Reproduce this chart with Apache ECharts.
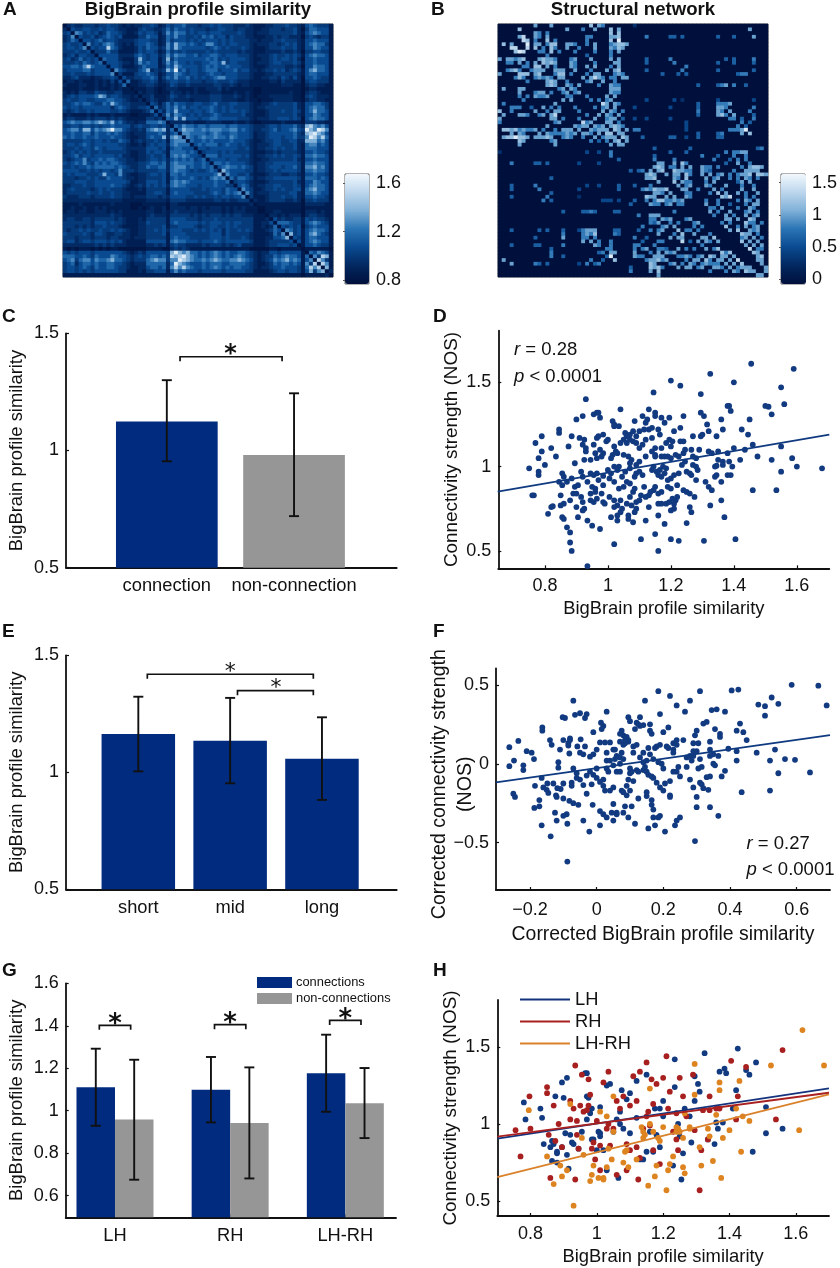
<!DOCTYPE html>
<html><head><meta charset="utf-8">
<style>html,body{margin:0;padding:0;background:#fff}#c{width:840px;height:1268px}</style>
<script src="https://cdn.jsdelivr.net/npm/echarts@6/dist/echarts.min.js"></script>
</head><body><div id="c"></div>
<script>
// ---------- DATA ----------
// Panel A: upper triangle, one level digit per cell (level values in similarityLevels). Each row starts at the decade holding its diagonal cell.
const similarityLevels = [0.8,0.86,0.93,1.0,1.07,1.17,1.27,1.38,1.5,1.62];
const similarityRows = [
"1232233323 3433212122 3343124344 5333233434 3332223211 1223334332 14543331",
"0043344334 3443221113 4332235354 4343332334 4332332211 2233323342 03554441",
"2306534342 3544321124 3443136465 5343443444 3333432212 2233333342 14565441",
"3340433423 4543411113 3544125464 4334354534 4243332211 1223233222 03432331",
"2354044345 3443222234 4433125344 4343434443 4343333221 2223343332 14454441",
"3433406343 5653212134 4543126475 5454346643 4344333212 2233234342 14565531",
"3443460434 4854211124 3544236475 4444443454 3433343211 1233343342 14465441",
"2332344033 3533111124 3443125343 4333334343 3333232211 1222232232 03344331",
"3443434304 4444222245 4344236465 5445344554 3444333212 2234334343 14565541",
"3344234340 5444211137 4344137354 4444445453 4344443211 2234344342 04454441",
"0444322136 4544136464 4343344554 7344333212 2234433343 14454441",
"4044311123 5444125475 4444345454 4544433211 1233332232 04465541",
"4406432224 5723237594 5344345553 4445344221 2334342343 14675541",
"4460311134 4543124465 4344334544 3444333211 1223333332 14554441",
"4344042233 4454135464 4534343456 6444333211 2233243242 04454331",
"3233405112 3343123443 3433323343 3343222111 1122132222 03443331",
"2122240112 2332112432 2322222233 2232122111 1111122211 02332211",
"1111111011 1221012221 1112112223 1211111100 1111111111 01221111",
"1122111102 1221011322 1212111222 1112112100 1111111211 02332111",
"3312121120 2231112432 2322222333 2223212101 1122222211 03432221",
"0232112322 2212222333 2222112110 1112222211 02332211",
"2043135354 4334433453 3344333211 2234333342 14455431",
"3405235464 5344344543 4343333212 2333333342 14565531",
"3450425474 4434434543 4344343211 1233343343 14575541",
"2342036365 4343433454 3333342211 1233333342 14465441",
"3353205474 7444344554 4444333212 2233444343 04565541",
"1111110222 2121112222 1112112100 1111121111 03332211",
"4554462054 6554554555 5455444322 2344344453 27865641",
"4465572505 7665565666 5566454322 3345344564 39769861",
"3534451350 6655554565 4455444312 2344444453 27897641",
"0654565565 5465444312 2344434453 36986851",
"6054454544 4454443211 2334433442 27775641",
"5504545553 4544343212 2234433342 15664541",
"4540443444 4444334212 2334343342 15554441",
"4544034443 4343333211 1223233332 14454431",
"5454305553 4444434212 2334343343 15565541",
"4344530444 4344333211 2233333342 14454441",
"4444350455 4544443212 2334444443 15565541",
"5555544054 5655454312 2344434453 16675641",
"5453454504 7544443312 2334344443 15565541",
"0644334211 1233322332 14454431",
"6053554312 2334444443 15554541",
"4503443211 1233333342 14465441",
"4530454212 2334433343 14565541",
"3454064311 2334343344 15675541",
"3543606312 2233333442 15565441",
"3345460311 1233343342 14454431",
"2244443021 1233332232 03343331",
"1111111201 1111111111 02222211",
"1011010100 0111111111 01111111",
"0112211111 02221211",
"1022121222 02332211",
"1204232233 14343321",
"2240555433 14565431",
"2255043434 03454441",
"1235406534 14565541",
"2235460734 14675431",
"1243367043 14554441",
"2234334404 14565441",
"1233344340 14454331",
"01111110",
"10546541",
"15063871",
"14608631",
"13680861",
"15368071",
"14616702",
"11111120"
];
// Panel B: upper-triangle connections per row, "column:digit" (value = d*0.17)
const networkRows = [
"9:6 13:6 23:7 25:6 26:5 34:2",
"5:7 17:6 21:5 24:6 28:7 30:6 63:6",
"9:6 10:5 12:5 28:7 30:7",
"5:6 6:8 9:6 10:5 12:6 22:5 23:5 28:6 29:6 30:7 37:5 43:4 44:4 46:4 55:4 59:4 64:6",
"6:8 7:7 9:5 12:7 14:5 22:5 28:7 30:9",
"7:9 9:6 10:6 12:5 13:7 14:7 17:6 18:6 19:5 22:5 24:6 28:5 29:6 30:7 31:7 32:6",
"7:8 9:7 11:5 13:7 14:5 17:6 20:5 24:6 28:6 29:5 30:7 31:6",
"10:5 11:5 13:7 15:5 19:5 24:5 28:5 30:6",
"12:5 22:4 28:5",
"10:6 11:7 12:6 13:6 14:5 18:5 19:6 23:6 28:6 30:6 37:4 43:5 57:4 59:4 64:5",
"11:7 12:6 13:7 14:6 18:6 19:5 24:5 29:6 30:6 37:4 44:5 55:4 59:4 64:4",
"12:6 14:5 18:6 19:5 22:6 24:6 28:5 30:6 47:5",
"14:6 15:6 16:6 19:6 23:5 27:6 29:6 30:7 37:4 46:5 55:4 64:4",
"14:5 15:7 16:7 18:5 22:5 24:6 25:6 29:5 30:6 31:5 41:4 45:4 47:4 60:4 61:5 62:5",
"15:6 16:6 21:6 23:6 24:8 25:6 26:5 28:5 29:5 31:6 32:6",
"17:5 22:5 23:6 26:6 29:5",
"17:6 18:5 20:6 25:5 28:6 29:5 30:5 50:4 55:4 56:5 57:6 59:5 62:4",
"18:6 19:5 28:6 29:6 30:6",
"19:5 20:6 28:6 29:5 30:5",
"22:5 27:6 29:6",
"23:5 25:5 27:5 28:6 37:3 44:3 46:2 55:3 64:3",
"26:8 27:6 29:6 30:5 50:4 55:5 56:5 57:5 58:6",
"24:5 26:5 27:6 29:6 34:3 43:3 50:4 55:6 56:6 57:5 64:5",
"26:6 28:6 29:5 31:5 50:5 55:6 56:5 58:6 63:5",
"25:6 27:6 28:5 30:6 50:4 55:6 56:7 57:5 59:6 64:4",
"27:5 28:6 29:6 31:4 34:3 37:3 43:3 58:5 59:5 61:4 64:5",
"27:6 28:6 30:5 47:3 61:5 63:4",
"28:6 29:7 30:6 31:5 47:3 60:5 62:4",
"29:7 30:6 32:6 34:5 35:5 47:3 58:5 59:5 60:5 61:6 62:9",
"30:6 31:6 50:4 55:4 56:5 61:6 63:7",
"31:7 32:6 36:4 43:4 44:4 47:3 50:4 55:4 56:4",
"32:6",
"",
"39:4 48:4 65:4 66:5",
"43:4 47:4 57:5 59:5 60:5 61:6 62:6",
"39:4 51:5 55:4 59:5 62:5",
"39:5 44:5 54:5 58:4 60:5 62:5",
"40:6 41:6 44:6 46:7 47:5 57:4 60:6 63:5",
"39:6 40:7 41:6 43:5 44:5 46:6 48:6 51:6 52:5 53:5 55:5 61:5 63:6 64:7 65:7 66:6",
"40:6 41:7 44:7 45:6 46:6 47:5 48:5 51:6 52:5 53:4 59:5 62:6 63:6 64:6 65:6",
"42:6 44:6 45:6 47:7 48:5 51:6 53:6 55:5 56:6 58:5 60:5 61:6 62:6 63:7 65:7 66:7 67:6",
"44:6 45:5 47:7 52:6 54:5 55:6 58:5 60:5 62:6 63:5 65:5",
"44:7 46:6 47:5 48:5 52:5 54:6 60:4 61:6 63:6",
"45:6 47:5 48:6 52:6 53:5 57:6 61:5 64:5",
"46:6 47:6 50:5 54:6 56:5 61:6 64:6",
"47:5 48:5 53:5 55:7 57:6 60:6 62:5 65:6",
"47:6 48:5 56:7 57:6 58:8 62:5 64:5",
"52:5 55:5 60:5 62:6 63:5 65:6",
"52:6 55:5 58:4 62:5 64:6 65:6",
"53:5 54:5 56:6 60:5 63:6 64:5",
"53:6 55:5 58:6 62:5 63:6 65:5",
"54:5 57:6 59:5 62:6 64:5 65:6",
"57:6 58:6 60:6 63:7 64:6",
"56:5 58:5 62:7 63:5 64:5 66:5",
"57:7 60:5 62:6 64:5 65:6",
"58:6 60:7 63:6 64:5 65:6",
"61:7 62:6 63:6 65:5",
"61:5 62:6 64:6 66:5",
"61:7 63:6 65:6",
"62:6 64:6 66:6",
"63:8 65:5 66:5",
"64:7 65:6",
"65:6 66:7",
"65:6 66:6",
"66:6",
"67:6",
"67:6",
""
];
const colorbarATicks = [0.8, 1.2, 1.6];
const colorbarBTicks = [0, 0.5, 1, 1.5];

// Panel C
const connCats = ["connection", "non-connection"];
const connMeans = [1.124, 0.981];
const connLow = [0.954, 0.72];
const connHigh = [1.30, 1.244];
// Panel E
const distCats = ["short", "mid", "long"];
const distMeans = [1.164, 1.135, 1.058];
const distLow = [1.004, 0.953, 0.882];
const distHigh = [1.323, 1.318, 1.235];
// Panel G
const hemiCats = ["LH", "RH", "LH-RH"];
const hemiConn = [1.111, 1.099, 1.176];
const hemiConnLow = [0.929, 0.945, 0.995];
const hemiConnHigh = [1.292, 1.253, 1.358];
const hemiNon = [0.958, 0.942, 1.035];
const hemiNonLow = [0.675, 0.681, 0.871];
const hemiNonHigh = [1.24, 1.204, 1.201];

// Panel D
const pointsD = [[.75,.99],[.76,.83],[.765,.83],[.77,1.14],[.79,1.18],[.79,1.09],[.78,1.05],[.78,.97],[.78,.95],[.80,1.01],[.81,.72],[.82,.76],[.825,.765],[.82,1.11],[.835,1.06],[.845,1.2],[.845,1.22],[.845,.91],[.855,.96],[.86,.94],[.855,.89],[.85,.83],[.86,.78],[.85,.77],[.855,.70],[.86,.69],[.87,.64],[.88,.61],[.88,.55],[.885,.50],[.935,.41],[.93,1.40],[.90,1.28],[.92,1.30],[.885,1.18],[.875,1.12],[.895,1.02],[.87,.91],[.885,.93],[.895,.88],[.89,.84],[.905,.89],[.90,.84],[.915,.82],[.88,.80],[.90,.76],[.92,.79],[.925,.75],[.92,.74],[.905,.70],[.935,.68],[.95,.65],[.975,.63],[.92,1.13],[.93,1.11],[.91,1.17],[.925,1.16],[.93,1.09],[.925,1.04],[.945,1.04],[.915,.97],[.92,.94],[.935,.91],[.945,.96],[.955,.95],[.965,.96],[.95,.88],[.96,.87],[.945,.84],[.96,.85],[.945,.80],[.955,.79],[.965,.81],[.985,.79],[.99,.78],[.98,.84],[.985,.89],[.97,.92],[.955,1.13],[.96,1.08],[.965,1.17],[.97,1.18],[.985,1.19],[.975,1.10],[.985,1.08],[.98,1.06],[.965,1.05],[.955,1.31],[.965,1.32],[.97,1.32],[.975,1.29],[.995,1.15],[1,1.16],[1.015,1.27],[1.02,1.25],[1.02,1.24],[1.035,1.24],[1.04,1.34],[1.02,1.12],[1.04,1.14],[1.05,1.16],[1.06,1.18],[1.07,1.19],[1.055,1.20],[1.08,1.21],[1.09,1.18],[1.1,1.21],[1.115,1.22],[1.13,1.22],[1.14,1.23],[1.16,1.22],[1.165,1.19],[1.085,1.27],[1.11,1.30],[1.125,1.28],[1.12,1.26],[1.13,1.34],[1.15,1.32],[1.15,1.30],[1.17,1.29],[1.18,1.26],[1.195,1.29],[1.145,1.44],[1.2,1.51],[1.23,1.48],[1.24,1.30],[1.23,1.23],[1.21,1.21],[1.325,1.55],[1.295,1.43],[1.4,1.50],[1.455,1.61],[1.59,1.58],[1.55,1.47],[1.56,1.37],[1.50,1.36],[1.51,1.355],[1.52,1.31],[1.45,1.28],[1.38,1.36],[1.385,1.36],[1.39,1.33],[1.36,1.28],[1.295,1.32],[1.305,1.30],[1.315,1.25],[1.32,1.21],[1.30,1.19],[1.295,1.18],[1.345,1.18],[1.365,1.22],[1.425,1.22],[1.445,1.19],[1.46,1.13],[1.55,1.12],[1.40,1.11],[1.435,1.10],[1.32,1.09],[1.33,1.08],[1.35,1.09],[1.38,1.08],[1.35,1.04],[1.365,1.03],[1.385,1.03],[1.395,1.00],[1.365,1.01],[1.42,1.04],[1.475,1.06],[1.52,1.04],[1.585,1.05],[1.60,1.00],[1.68,.99],[1.55,.97],[1.38,.95],[1.39,.95],[1.345,.95],[1.34,.94],[1.36,.91],[1.31,.91],[1.32,.88],[1.33,.86],[1.46,.86],[1.535,.86],[1.36,.80],[1.325,.77],[1.37,.70],[1.405,.57],[1.305,.56],[1.225,.56],[1.2,.57],[1.16,.50],[1.15,.60],[1.105,.57],[1.02,.54],[1.08,.67],[1.12,.68],[1.18,.66],[1.25,.665],[1.265,.73],[1.26,.76],[1.16,.71],[1.13,.76],[1.2,.74],[1.21,.75],[1.16,.78],[1.17,.78],[1.185,.78],[1.195,.79],[1.21,.78],[1.215,.80],[1.205,.81],[1.22,.82],[1.24,.86],[1.25,.85],[1.26,.84],[1.275,.82],[1.22,.89],[1.20,.87],[1.19,.88],[1.17,.85],[1.16,.84],[1.15,.88],[1.145,.86],[1.135,.85],[1.13,.83],[1.12,.82],[1.105,.83],[1.1,.80],[1.09,.79],[1.115,.88],[1.08,.85],[1.085,.87],[1.07,.82],[1.06,.78],[1.04,.80],[1.03,.77],[1.02,.76],[1.045,.75],[1.04,.73],[1.03,.71],[1.03,.68],[1.01,.70],[1.065,.71],[1.065,.69],[1.09,.75],[1.085,.73],[1.075,.77],[1.005,.82],[1.02,.80],[1.035,.87],[1.05,.88],[1.06,.91],[1.07,.90],[1.085,.94],[1.09,.96],[1.1,.97],[1.11,.95],[1.14,.98],[1.155,.97],[1.16,.95],[1.17,.94],[1.18,.96],[1.165,.98],[1.175,1.0],[1.185,.99],[1.145,1.0],[1.19,.92],[1.2,.93],[1.21,.95],[1.225,.96],[1.235,1.01],[1.25,.97],[1.26,.96],[1.265,.95],[1.28,.92],[1.245,1.03],[1.27,1.01],[1.28,1.0],[1.285,.98],[1.34,1.0],[1.345,1.005],[1.15,1.07],[1.17,1.06],[1.18,1.06],[1.19,1.06],[1.2,1.05],[1.215,1.07],[1.225,1.06],[1.24,1.08],[1.245,1.10],[1.265,1.10],[1.27,1.06],[1.28,1.05],[1.29,1.10],[1.27,1.18],[1.23,1.15],[1.24,1.15],[1.205,1.15],[1.195,1.16],[1.185,1.14],[1.2,1.12],[1.17,1.11],[1.15,1.11],[1.14,1.09],[1.15,1.06],[1.12,1.06],[1.1,1.03],[1.075,1.04],[1.07,1.02],[1.065,1.06],[1.05,1.07],[1.03,1.08],[1.025,1.09],[1.015,1.07],[1.01,1.05],[1.02,1.0],[1.035,1.0],[1.03,.98],[1.01,.96],[1.0,.98],[1.005,.93],[1.02,.91],[.985,.945],[1.045,.94],[1.055,.97],[1.07,.99],[1.09,1.01],[1.1,1.11],[1.08,1.15],[1.07,1.16],[1.06,1.14],[1.09,1.14],[1.11,1.13],[1.12,1.16],[1.14,1.17]];
const lineD = [[.65,.852],[1.703,1.19]];

// Panel F
const pointsF = [[-.262,.105],[-.262,-.015],[-.248,.02],[-.25,-.19],[-.245,-.21],[-.235,.145],[-.22,-.01],[-.22,-.04],[-.21,.08],[-.195,.07],[-.188,.03],[-.185,-.14],[-.187,-.28],[-.172,-.27],[-.172,-.23],[-.165,-.39],[-.163,.23],[-.163,.21],[-.165,-.09],[-.16,-.15],[-.15,-.165],[-.148,-.125],[-.145,-.185],[-.14,.15],[-.138,-.46],[-.135,.12],[-.13,-.125],[-.125,-.31],[-.12,-.21],[-.122,-.2],[-.118,-.155],[-.12,-.36],[-.115,.01],[-.115,-.025],[-.11,.09],[-.108,-.16],[-.1,-.125],[-.1,.15],[-.1,-.22],[-.1,-.33],[-.102,.295],[-.095,.29],[-.09,-.32],[-.088,-.38],[-.088,-.62],[-.085,.13],[-.085,.115],[-.082,-.235],[-.082,.065],[-.08,.16],[-.08,.15],[-.075,-.14],[-.075,-.12],[-.07,-.25],[-.07,.4],[-.07,-.03],[-.06,-.09],[-.06,-.06],[-.065,.31],[-.058,.11],[-.05,.32],[-.048,.155],[-.05,.07],[-.05,-.1],[-.055,-.26],[-.04,-.135],[-.04,-.36],[-.04,.06],[-.035,.29],[-.035,.11],[-.03,-.075],[-.03,-.19],[-.03,.315],[-.022,-.43],[-.02,.045],[-.012,-.26],[-.015,-.13],[-.01,.2],[-.01,.06],[0,.09],[.0,-.09],[.01,.135],[.02,-.1],[.02,.24],[.025,.135],[.02,-.14],[.025,-.17],[.01,-.115],[.03,.02],[.03,-.03],[.035,-.05],[.04,.135],[.01,-.3],[.01,-.39],[.013,.26],[.015,.22],[.02,-.32],[.03,-.34],[.03,.33],[.04,-.17],[.045,-.31],[.05,-.01],[.05,-.15],[.05,-.255],[.06,-.32],[.05,.09],[.055,.09],[.06,.05],[.055,.03],[.06,-.05],[.07,.19],[.07,.14],[.075,.21],[.08,.18],[.085,.15],[.09,.17],[.095,.14],[.095,.15],[.085,.13],[.08,.12],[.07,.04],[.075,.07],[.05,-.36],[.06,-.31],[.07,-.05],[.07,.0],[.075,-.17],[.08,-.18],[.08,-.31],[.085,-.27],[.09,-.2],[.09,-.14],[.095,-.1],[.1,.27],[.095,-.34],[.1,-.17],[.1,-.06],[.105,-.27],[.11,-.11],[.11,.11],[.12,.12],[.13,.295],[.12,.26],[.125,.25],[.115,.22],[.13,.24],[.095,.295],[.105,-.05],[.125,-.22],[.115,-.38],[.125,-.05],[.13,.04],[.14,.01],[.14,-.04],[.14,.07],[.14,.245],[.145,.4],[.145,-.02],[.15,-.05],[.15,-.205],[.15,-.18],[.155,.1],[.16,.25],[.16,.21],[.165,.19],[.155,-.07],[.165,-.08],[.17,-.09],[.17,.03],[.17,-.34],[.165,-.26],[.17,-.29],[.165,-.23],[.155,-.41],[.175,-.39],[.175,.1],[.18,.11],[.19,.12],[.185,.01],[.195,.0],[.18,-.12],[.19,-.15],[.2,-.17],[.205,-.125],[.19,.315],[.185,.46],[.19,-.33],[.185,-.34],[.2,.2],[.21,.11],[.205,-.43],[.215,.23],[.22,-.2],[.22,-.21],[.215,.1],[.22,.43],[.23,.07],[.23,.13],[.23,.09],[.24,-.05],[.245,-.02],[.25,-.08],[.24,.12],[.24,.15],[.26,.15],[.265,.33],[.27,.04],[.28,.05],[.27,-.02],[.28,-.1],[.29,.05],[.29,-.15],[.3,-.21],[.305,.13],[.32,.255],[.33,.265],[.34,.09],[.35,.06],[.355,.22],[.365,.05],[.37,.19],[.37,.17],[.29,.13],[.295,.18],[.3,.21],[.31,.03],[.3,.08],[.29,.08],[.285,.02],[.305,-.03],[.315,-.02],[.31,.46],[.28,.4],[.24,.37],[.25,-.34],[.24,-.36],[.235,-.39],[.295,-.49],[.3,-.275],[.34,-.275],[.365,-.33],[.31,-.12],[.315,-.13],[.32,-.155],[.335,-.165],[.33,-.085],[.34,-.08],[.375,-.08],[.385,-.045],[.355,-.01],[.35,.0],[.34,.05],[.34,.14],[.345,.34],[.36,.345],[.385,.33],[.405,.465],[.425,.47],[.42,.21],[.43,.255],[.44,.2],[.45,.15],[.395,.095],[.42,.08],[.42,.02],[.435,-.18],[.48,.07],[.485,.375],[.505,.365],[.505,.305],[.525,.42],[.545,.38],[.535,.09],[.52,.02],[.545,-.06],[.52,-.17],[.565,.03],[.585,.5],[.595,.025],[.64,-.055],[.665,.495],[.69,.37],[.23,-.05],[.22,-.11],[.2,-.03],[.16,.06],[.15,.02],[.12,-.04],[.11,.07],[.1,-.03],[.08,.03],[.04,.02],[.03,.07],[0,-.03],[-.01,-.07],[-.02,-.05]];
const lineF = [[-.302,-.118],[.7,.182]];

// Panel H
const pointsHL = [[.78,1.14],[.785,1.03],[.83,1.10],[.835,1.04],[.84,.87],[.86,.85],[.865,.89],[.87,.87],[.875,1.18],[.88,.81],[.865,.76],[.88,.82],[.88,.75],[.895,.85],[.895,1.27],[.9,1.17],[.905,.94],[.91,1.3],[.91,.8],[.915,.71],[.92,.93],[.925,.88],[.93,.87],[.945,.84],[.955,.95],[.965,1.33],[.97,1.33],[.97,1.18],[.975,1.17],[.97,1.03],[.98,1.07],[.985,.9],[.985,1.1],[.99,.9],[1,.83],[1.005,.95],[1.01,1.11],[1.01,.94],[1.01,.92],[1.02,.83],[1.03,.7],[1.03,1.25],[1.04,1.26],[1.05,.95],[1.06,1.03],[1.065,.65],[1.07,1.08],[1.07,1.0],[1.075,1.22],[1.08,.97],[1.09,1.16],[1.1,1.2],[1.1,.94],[1.12,1.04],[1.12,1.28],[1.13,.77],[1.14,.77],[1.15,1.32],[1.15,.82],[1.16,.95],[1.17,.82],[1.175,1.1],[1.18,.93],[1.19,1.1],[1.19,.85],[1.2,1.05],[1.2,1.15],[1.23,.73],[1.235,1.42],[1.235,1.24],[1.245,1.0],[1.25,.92],[1.255,.64],[1.26,.81],[1.265,1.1],[1.28,1.05],[1.285,.88],[1.295,1.31],[1.295,1.15],[1.305,1.26],[1.31,1.21],[1.325,1.46],[1.335,.9],[1.355,.87],[1.36,1.01],[1.365,.97],[1.37,1.34],[1.385,1.36],[1.39,1.33],[1.38,1.01],[1.41,1.1],[1.42,1.22],[1.425,1.49],[1.45,1.35],[1.46,1.32],[1.47,.82],[1.48,1.4],[1.51,1.11],[1.51,.94],[1.56,.97]];
const pointsHR = [[.755,.96],[.77,.79],[.797,1.18],[.8,.97],[.85,1.2],[.85,1.24],[.855,.93],[.86,.65],[.87,1.12],[.875,.89],[.885,1.0],[.895,.85],[.92,1.15],[.92,1.03],[.93,1.1],[.935,1.38],[.935,.64],[.94,1.02],[.945,.84],[.95,1.12],[.955,1.32],[.96,1.08],[.97,1.09],[.975,1.29],[.975,1.12],[.98,1.19],[.985,.84],[.99,.88],[.995,.77],[1.01,.7],[1.01,.86],[1.02,1.27],[1.03,.97],[1.035,1.34],[1.035,1.0],[1.04,.86],[1.06,1.15],[1.06,.67],[1.07,1.1],[1.08,1.18],[1.09,.87],[1.09,.7],[1.1,1.12],[1.11,1.31],[1.12,.85],[1.12,1.15],[1.125,.64],[1.13,1.34],[1.14,.97],[1.15,1.4],[1.155,1.08],[1.16,.99],[1.165,1.29],[1.17,1.13],[1.18,1.26],[1.19,.74],[1.2,1.3],[1.21,1.44],[1.215,1.1],[1.22,1.21],[1.23,.95],[1.24,1.07],[1.24,.9],[1.245,.83],[1.25,1.3],[1.26,1.18],[1.27,1.05],[1.29,1.32],[1.295,.96],[1.31,.57],[1.315,.83],[1.32,1.09],[1.335,.9],[1.34,1.09],[1.34,1.18],[1.36,1.1],[1.37,1.1],[1.405,1.41],[1.42,1.03],[1.425,1.18],[1.45,1.37],[1.54,1.03],[1.56,1.48],[1.1,.83],[1.05,.97],[1.15,1.05],[1.17,.83],[1.13,.78],[.94,.93],[1.0,1.02]];
const pointsHO = [[.795,1.09],[.85,.79],[.87,.61],[.895,.66],[.92,1.13],[.89,.73],[.91,.7],[.93,.47],[.955,.91],[.96,.8],[.98,.63],[.985,.67],[.99,.73],[1.005,.65],[1.02,.65],[1.02,.64],[1.01,1.08],[1.03,1.05],[1.03,.72],[1.035,.84],[1.045,.77],[1.05,1.18],[1.08,.75],[1.085,.82],[1.09,.83],[1.095,.72],[1.135,.98],[1.14,.95],[1.145,.93],[1.155,.6],[1.16,1.23],[1.17,.95],[1.175,.66],[1.18,.73],[1.185,.91],[1.19,.89],[1.2,.98],[1.21,.57],[1.215,.7],[1.22,.74],[1.23,.79],[1.24,.98],[1.245,.97],[1.25,.95],[1.26,.72],[1.26,.91],[1.265,.68],[1.28,.98],[1.295,1.39],[1.295,1.19],[1.31,.85],[1.315,.73],[1.335,.97],[1.34,.92],[1.35,.76],[1.36,1.06],[1.37,1.27],[1.37,1.22],[1.375,.65],[1.38,.91],[1.4,.96],[1.43,1.28],[1.42,1.1],[1.435,.82],[1.44,1.05],[1.46,1.02],[1.525,1.38],[1.61,.96],[1.62,1.61],[1.685,1.38],[1.265,1.07],[1.24,.95],[1.12,.77],[1.05,.95],[1.14,.91],[1.16,1.0],[1.28,.97]];
const lineHL = [[.70,.905],[1.70,1.232]];
const lineHR = [[.70,.918],[1.70,1.203]];
const lineHO = [[.70,.656],[1.70,1.193]];

// ---------- STYLE ----------
const FONT = '"Liberation Sans", Arial, sans-serif';
const NAVY = '#012b7f', GRAY = '#969696', DOT = '#123a80', INK = '#111';
const PAL = ['#00103c','#02275f','#0a4a90','#2a74b5','#7fb0d8','#bcd6ec','#f2f8fd'];

const simData = [];
{
  const m = Array.from({length:68},()=>Array(68).fill(similarityLevels[0]));
  similarityRows.forEach((s,i)=>{
    const d = s.replace(/\s/g,''); const st = Math.floor(i/10)*10;
    for(let j=i+1;j<68;j++){ const ch=d[j-st]; const v=similarityLevels[ch===undefined?2:+ch]; m[i][j]=v; m[j][i]=v; }
  });
  for(let i=0;i<68;i++)for(let j=0;j<68;j++)simData.push([j,i,m[i][j]]);
}
const netData = [];
{
  const m = Array.from({length:68},()=>Array(68).fill(0));
  networkRows.forEach((s,i)=>{
    s.split(' ').filter(Boolean).forEach(t=>{const [c,d]=t.split(':').map(Number); m[i][c]=d*0.17; m[c][i]=d*0.17;});
  });
  for(let i=0;i<68;i++)for(let j=0;j<68;j++)netData.push([j,i,m[i][j]]);
}
const idx = Array.from({length:68},(_,i)=>i);
const fmt = v => String(+(+v).toFixed(2)).replace('-','\u2212');

const grids = [
 {left:63,top:24,width:270,height:253,show:true,borderColor:'#555',borderWidth:1,backgroundColor:'#0a4a90'},
 {left:498,top:24,width:270,height:253,show:true,borderColor:'#555',borderWidth:1,backgroundColor:'#00103c'},
 {left:345,top:174,width:24,height:110,show:true,borderColor:'#666',borderWidth:1,backgroundColor:'transparent',z:4},
 {left:781,top:174,width:25,height:110,show:true,borderColor:'#666',borderWidth:1,backgroundColor:'transparent',z:4},
 {left:66,top:333.3,width:330.7,height:234.4},
 {left:498.3,top:330.7,width:331,height:237.6},
 {left:66,top:655.3,width:330.7,height:234},
 {left:496,top:668.3,width:334,height:221.7},
 {left:65.7,top:983.3,width:330.3,height:234},
 {left:497.3,top:1000,width:331.7,height:216}
];
const hidden = i => ({type:'category',gridIndex:i,data:idx,show:false});
function valX(i,min,max,ticks,opts={}){return Object.assign({
  type:'value',gridIndex:i,min,max,splitLine:{show:false},nameMoveOverlap:false,
  axisLine:{show:true,onZero:false,lineStyle:{color:INK,width:1.8}},
  axisTick:{show:true,inside:true,length:3,customValues:ticks,lineStyle:{color:INK,width:1.2}},
  axisLabel:{fontFamily:FONT,fontSize:18,color:'#111',margin:9,customValues:ticks,formatter:fmt,hideOverlap:false,showMinLabel:true,showMaxLabel:true},
  nameLocation:'middle',nameGap:32,nameTextStyle:{fontFamily:FONT,fontSize:18.4,color:'#111'}
},opts);}
function valY(i,min,max,ticks,name,gap,nameStyle){return {
  type:'value',gridIndex:i,min,max,splitLine:{show:false},name,nameLocation:'middle',nameGap:gap,nameMoveOverlap:false,
  nameTextStyle:Object.assign({fontFamily:FONT,fontSize:18.4,color:'#111',lineHeight:26},nameStyle||{}),
  axisLine:{show:true,onZero:false,lineStyle:{color:INK,width:1.8}},
  axisTick:{show:true,inside:true,length:3,customValues:ticks,lineStyle:{color:INK,width:1.2}},
  axisLabel:{fontFamily:FONT,fontSize:18,color:'#111',margin:7,customValues:ticks,formatter:fmt}
};}
function catX(i,min,max,ticks,labels,margin){
  const map = {}; ticks.forEach((t,k)=>map[t]=labels[k]);
  return valX(i,min,max,ticks,{axisLabel:{fontFamily:FONT,fontSize:18.3,color:'#111',margin,customValues:ticks,formatter:v=>map[v]||''}});
}
function cbY(i,min,max,ticks){return {
  type:'value',gridIndex:i,position:'right',min,max,splitLine:{show:false},
  axisLine:{show:false},axisTick:{show:true,inside:true,length:2,customValues:ticks,lineStyle:{color:'#555'}},
  axisLabel:{fontFamily:FONT,fontSize:18,color:'#111',margin:7,customValues:ticks,formatter:fmt}
};}
function largeName(ax,fs,gap){ax.nameTextStyle=Object.assign({},ax.nameTextStyle,{fontSize:fs});ax.nameGap=gap;return ax;}
const xAxes = [hidden(0),hidden(1),
  {type:'value',gridIndex:2,min:0,max:1,show:false},{type:'value',gridIndex:3,min:0,max:1,show:false},
  catX(4,0.2075,2.807,[1,2],connCats,9),
  valX(5,0.652,1.703,[.8,1,1.2,1.4,1.6],{name:'BigBrain profile similarity'}),
  catX(6,0.2124,3.814,[1,2,3],distCats,10),
  largeName(valX(7,-0.302,0.7,[-.2,0,.2,.4,.6],{name:'Corrected BigBrain profile similarity'}),19.4,35),
  catX(8,0.572,3.44,[1,2,3],hemiCats,9.5),
  valX(9,0.70,1.70,[.8,1,1.2,1.4,1.6],{name:'BigBrain profile similarity'})
];
xAxes[7].axisLabel.margin = 11;
const yAxes = [Object.assign(hidden(0),{inverse:true}),Object.assign(hidden(1),{inverse:true}),
  cbY(2,0.767,1.675,colorbarATicks),cbY(3,-0.078,1.635,colorbarBTicks),
  valY(4,0.5,1.5,[.5,1,1.5],'BigBrain profile similarity',36),
  valY(5,0.397,1.806,[.5,1,1.5],'Connectivity strength (NOS)',34,{fontSize:18.9}),
  valY(6,0.5,1.5,[.5,1,1.5],'BigBrain profile similarity',36),
  valY(7,-0.8,0.605,[-.5,0,.5],'Corrected connectivity strength\n(NOS)',17,{fontSize:19.6,padding:[0,10,0,0]}),
  valY(8,0.498,1.6,[.6,.8,1,1.2,1.4,1.6],'BigBrain profile similarity',36),
  valY(9,0.403,1.805,[.5,1,1.5],'Connectivity strength (NOS)',33.5,{fontSize:18.9})
];

// error bars from [x, low, high]
function errSeries(g,xs,lows,highs,offPx){
  return {type:'custom',xAxisIndex:g,yAxisIndex:g,silent:true,z:6,clip:false,
    data:xs.map((x,k)=>[x,lows[k],highs[k]]),
    renderItem:(p,api)=>{
      const a=api.coord([api.value(0),api.value(1)]), b=api.coord([api.value(0),api.value(2)]);
      const x=a[0]+(offPx||0), st={stroke:'#111',lineWidth:1.9};
      return {type:'group',children:[
        {type:'line',shape:{x1:x,y1:a[1],x2:x,y2:b[1]},style:st},
        {type:'line',shape:{x1:x-5,y1:a[1],x2:x+5,y2:a[1]},style:st},
        {type:'line',shape:{x1:x-5,y1:b[1],x2:x+5,y2:b[1]},style:st}]};
    }};
}
// significance bracket from [x1,x2,y,starX]
function bracket(g,items,size,weight,starOff){
  return {type:'custom',xAxisIndex:g,yAxisIndex:g,silent:true,z:6,clip:false,data:items,
    renderItem:(p,api)=>{
      const a=api.coord([api.value(0),api.value(2)]), b=api.coord([api.value(1),api.value(2)]), s=api.coord([api.value(3),api.value(2)]);
      return {type:'group',children:[
        {type:'polyline',shape:{points:[[a[0],a[1]+4.5],[a[0],a[1]],[b[0],b[1]],[b[0],b[1]+4.5]]},style:{stroke:'#111',lineWidth:1.7,fill:null}},
        {type:'text',x:s[0],y:s[1]+(starOff||0),style:{text:'*',fontFamily:'"DejaVu Sans"',fontWeight:weight,fontSize:size,fill:'#111',textAlign:'center',textVerticalAlign:'middle'}}]};
    }};
}
function barS(g,name,xs,ys,color,width,gap){
  return {type:'bar',name,xAxisIndex:g,yAxisIndex:g,barWidth:width,barGap:gap||'0%',itemStyle:{color},silent:true,
    data:xs.map((x,k)=>[x,ys[k]])};
}
function scat(g,name,pts,color){
  return {type:'scatter',name,xAxisIndex:g,yAxisIndex:g,data:pts,symbolSize:5.8,silent:true,itemStyle:{color,opacity:1},clip:false};
}
function lineS(g,name,pts,color){
  return {type:'line',name,xAxisIndex:g,yAxisIndex:g,data:pts,showSymbol:false,silent:true,z:5,color,lineStyle:{color,width:1.8}};
}
const connBar = barS(4,'conn',[1,2],connMeans,NAVY,101.7);
connBar.data[1] = {value:connBar.data[1],itemStyle:{color:GRAY}};

const series = [
 {type:'heatmap',xAxisIndex:0,yAxisIndex:0,data:simData,silent:true,progressive:0},
 {type:'heatmap',xAxisIndex:1,yAxisIndex:1,data:netData,silent:true,progressive:0},
 connBar,
 errSeries(4,[1,2],connLow,connHigh),
 bracket(4,[[1.104,1.906,1.40,1.5]],24,'bold',-2),
 scat(5,'pd',pointsD,DOT), lineS(5,'ld',lineD,'#0f3a80'),
 barS(6,'dist',[1,2,3],distMeans,NAVY,73.5),
 errSeries(6,[1,2,3],distLow,distHigh),
 bracket(6,[[1.098,2.906,1.419,2.002],[2.08,2.906,1.349,2.5]],22,'normal',-2),
 scat(7,'pf',pointsF,DOT), lineS(7,'lf',lineF,'#0f3a80'),
 barS(8,'connections',[1,2,3],hemiConn,NAVY,38.5),
 barS(8,'non-connections',[1,2,3],hemiNon,GRAY,38.5),
 errSeries(8,[1,2,3],hemiConnLow,hemiConnHigh,-19.2),
 errSeries(8,[1,2,3],hemiNonLow,hemiNonHigh,19.2),
 bracket(8,[[.864,1.136,1.402,1],[1.864,2.136,1.405,2],[2.864,3.136,1.425,3]],26,'bold',0),
 scat(9,'hl',pointsHL,DOT), scat(9,'hr',pointsHR,'#a81f1f'), scat(9,'ho',pointsHO,'#dd8420'),
 lineS(9,'LH',lineHL,'#14337c'), lineS(9,'RH',lineHR,'#a8201f'), lineS(9,'LH-RH',lineHO,'#d9822b')
];

const letters = [['A',3,0],['B',431,0],['C',2,307],['D',433,307],['E',2,622],['F',433,622],['G',2,961],['H',433,961]];
const title = letters.map(([t,l,tp])=>({text:t,left:l,top:tp,padding:0,textStyle:{fontFamily:FONT,fontSize:19,fontWeight:'bold',color:'#111'}}));
title.push({text:'BigBrain profile similarity',left:198,top:0,textAlign:'center',padding:0,textStyle:{fontFamily:FONT,fontSize:18.6,fontWeight:'bold',color:'#111'}});
title.push({text:'Structural network',left:633,top:0,textAlign:'center',padding:0,textStyle:{fontFamily:FONT,fontSize:18.6,fontWeight:'bold',color:'#111'}});

const rich = {i:{fontFamily:FONT,fontSize:18.5,fontStyle:'italic',fill:'#111'},n:{fontFamily:FONT,fontSize:18.5,fill:'#111'}};
const statText = (t,x,y)=>({type:'text',x,y,z:10,style:{text:t,rich,fontFamily:FONT,fontSize:18.5,fill:'#111',textVerticalAlign:'middle'}});

const option = {
  animation:false,backgroundColor:'#fff',title,
  grid:grids,
  xAxis:xAxes,yAxis:yAxes,
  visualMap:[
    {type:'continuous',seriesIndex:0,min:0.767,max:1.675,left:345,top:174,itemWidth:24,itemHeight:110,padding:0,calculable:false,inRange:{color:PAL},text:null,realtime:false,hoverLink:false},
    {type:'continuous',seriesIndex:1,min:0,max:1.635,left:781,top:174,itemWidth:25,itemHeight:110,padding:0,calculable:false,inRange:{color:PAL},text:null,realtime:false,hoverLink:false}
  ],
  legend:[
    {data:['connections','non-connections'],left:257,top:976,orient:'vertical',padding:0,itemWidth:35,itemHeight:11,itemGap:3,icon:'rect',selectedMode:false,textStyle:{fontFamily:FONT,fontSize:12.9,color:'#111',padding:[0,0,0,-1]}},
    {data:['LH','RH','LH-RH'],left:520,top:990,orient:'vertical',padding:0,itemWidth:50,itemHeight:2,itemGap:3,icon:'rect',selectedMode:false,textStyle:{fontFamily:FONT,fontSize:18.3,color:'#111',lineHeight:19}}
  ],
  graphic:[
    statText('{i|r}{n| = 0.28}',514,350),
    statText('{i|p}{n| < 0.0001}',514,376.5),
    statText('{i|r}{n| = 0.27}',746.5,843.5),
    statText('{i|p}{n| < 0.0001}',746.5,869.5)
  ],
  series
};
const chart = echarts.init(document.getElementById('c'),null,{renderer:'canvas'});
chart.setOption(option);
</script></body></html>
